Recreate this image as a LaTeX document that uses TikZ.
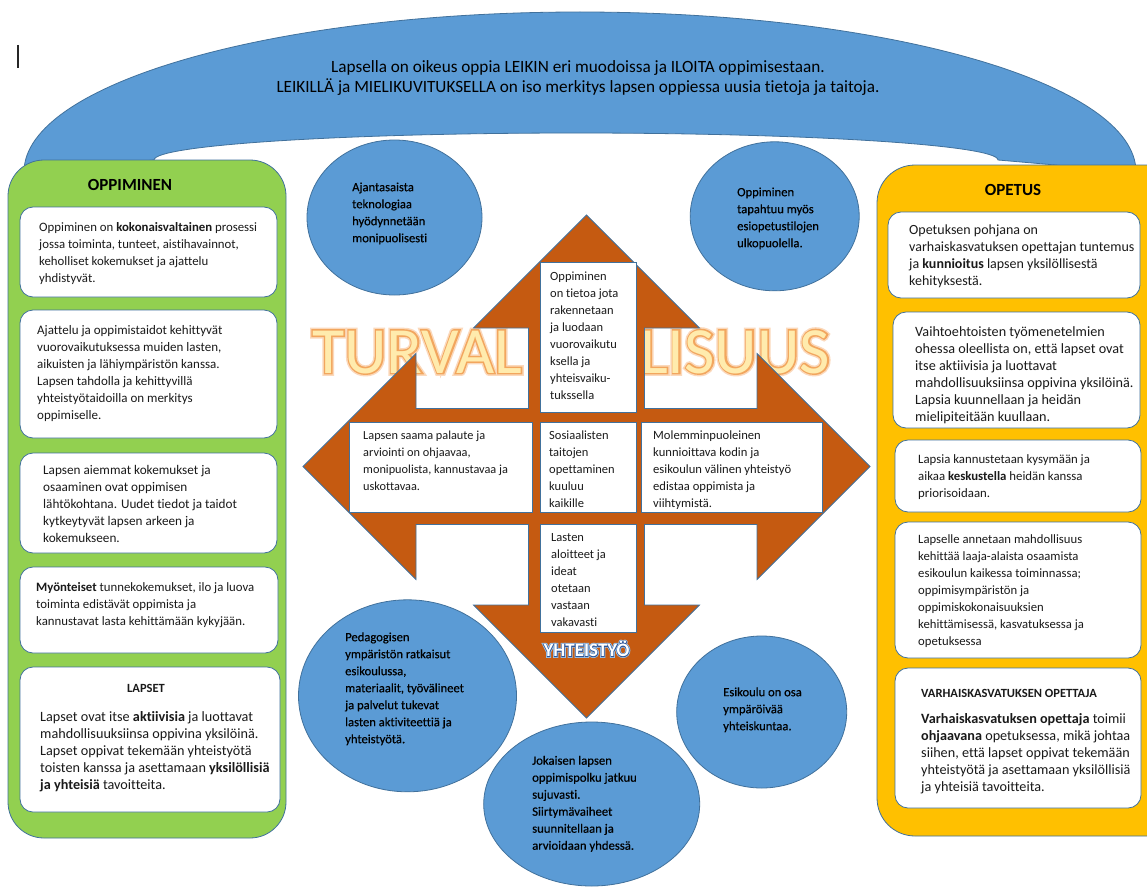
\documentclass[tikz,border=0pt]{standalone}
\usepackage{fontspec}
\defaultfontfeatures{Ligatures=NoCommon, RawFeature={-calt}}
\setmainfont{Carlito}
\newfontfamily\circfont{Carlito}[FakeBold=0.45]
\newfontfamily\glowfont{Carlito}[FakeBold=9]
\newfontfamily\linefont{Carlito}[FakeBold=4.5]
\newfontfamily\yglowfont{Carlito}[FakeBold=14]
\newfontfamily\ylinefont{Carlito}[FakeBold=6]
\usetikzlibrary{shapes.geometric}
\definecolor{archblue}{HTML}{5B9BD5}
\definecolor{edgeblue}{HTML}{41719C}
\definecolor{leafgreen}{HTML}{92D050}
\definecolor{gold}{HTML}{FFC000}
\definecolor{rust}{HTML}{C55A11}
\definecolor{ink}{HTML}{1A1A1A}
\definecolor{turvfill}{HTML}{FFEBAD}
\definecolor{turvline}{HTML}{F2A65E}
\definecolor{turvglow}{HTML}{FBD9BC}
\definecolor{yhtline}{HTML}{2F5597}
\definecolor{yhtglow}{HTML}{9DC3E6}
\newcommand\ls{\rule{0pt}{11pt}}
\begin{document}
\begin{tikzpicture}[x=1pt,y=-1pt,
  txt/.style={font=\fontsize{#1}{17}\selectfont, align=left, anchor=north west, inner sep=0pt, text=ink},
  txt/.default=13,
  ctxt/.style={font=\circfont\fontsize{#1}{17}\selectfont, align=left, anchor=north west, inner sep=0pt, text=black},
  hdr/.style={font=\fontsize{12.5}{15}\selectfont\bfseries, inner sep=0pt, text=ink},
  ttl/.style={font=\fontsize{17}{20}\selectfont\bfseries, inner sep=0pt, text=black},
  ban/.style={font=\fontsize{17.2}{20}\selectfont, inner sep=0pt, anchor=base, text=black},
  wbox/.style={draw=edgeblue, line width=0.8pt, fill=white, rounded corners=13pt},
  cbox/.style={draw=edgeblue, line width=0.8pt, fill=white},
  bubble/.style={ellipse, draw=edgeblue, line width=0.8pt, fill=archblue, inner sep=0pt},
  turv/.style={font=\fontsize{66}{66}\selectfont, anchor=base west, inner sep=0pt},
  yht/.style={font=\fontsize{19}{20}\selectfont\bfseries, anchor=base, inner sep=0pt},
]
\useasboundingbox (0,0) rectangle (1147,891);
\fill[white] (0,0) rectangle (1147,891);

% text cursor
\draw[line width=1.3pt, black!85] (18,45) -- (18,68);

% blue arch
\filldraw[fill=archblue, draw=edgeblue, line width=0.8pt]
  (24,172) arc[start angle=180, end angle=360, x radius=556, y radius=160]
  -- (998,160) arc[start angle=0, end angle=-180, x radius=422, y radius=27] -- cycle;
\node[ban] (ban1) at (578,72.5) {Lapsella on oikeus oppia LEIKIN eri muodoissa ja ILOITA oppimisestaan.};
\node[ban] (ban2) at (578,92.5) {LEIKILLÄ ja MIELIKUVITUKSELLA on iso merkitys lapsen oppiessa uusia tietoja ja taitoja.};

% side panels
\filldraw[fill=leafgreen, draw=edgeblue, line width=0.8pt, rounded corners=36pt] (8,160) rectangle (286,838);
\filldraw[fill=gold, draw=edgeblue, line width=0.8pt, rounded corners=38pt] (877,165) rectangle (1200,836);
\node[ttl] (tOpp) at (130,185) {OPPIMINEN};
\node[ttl] (tOpe) at (1013,190) {OPETUS};

% left boxes
\draw[wbox] (20,207) rectangle (277,297);
\node[txt=12.8] (L1) at (39,220.5) {\ls Oppiminen on \textbf{kokonaisvaltainen} prosessi\\jossa toiminta, tunteet, aistihavainnot,\\keholliset kokemukset ja ajattelu\\yhdistyvät.};
\draw[wbox] (20,310) rectangle (277,438);
\node[txt=13] (L2) at (37,323.5) {\ls Ajattelu ja oppimistaidot kehittyvät\\vuorovaikutuksessa muiden lasten,\\aikuisten ja lähiympäristön kanssa.\\Lapsen tahdolla ja kehittyvillä\\yhteistyötaidoilla on merkitys\\oppimiselle.};
\draw[wbox] (20,453) rectangle (277,553);
\node[txt=13.2] (L3) at (43,463.5) {\ls Lapsen aiemmat kokemukset ja\\osaaminen ovat oppimisen\\lähtökohtana. Uudet tiedot ja taidot\\kytkeytyvät lapsen arkeen ja\\kokemukseen.};
\draw[wbox] (20,567) rectangle (278,653);
\node[txt=12.8] (L4) at (36,580) {\ls\textbf{Myönteiset} tunnekokemukset, ilo ja luova\\toiminta edistävät oppimista ja\\kannustavat lasta kehittämään kykyjään.};
\draw[wbox] (20,667) rectangle (280,812);
\node[hdr] (L5h) at (146,688.5) {LAPSET};
\node[txt=14.2] (L5) at (40,710) {\ls Lapset ovat itse \textbf{aktiivisia} ja luottavat\\mahdollisuuksiinsa oppivina yksilöinä.\\Lapset oppivat tekemään yhteistyötä\\toisten kanssa ja asettamaan \textbf{yksilöllisiä}\\\textbf{ja yhteisiä} tavoitteita.};

% right boxes
\draw[wbox] (888,212) rectangle (1140,298);
\node[txt=14] (R1) at (909,223.5) {\ls Opetuksen pohjana on\\varhaiskasvatuksen opettajan tuntemus\\ja \textbf{kunnioitus} lapsen yksilöllisestä\\kehityksestä.};
\draw[wbox] (893,312) rectangle (1140,428);
\node[txt=14.2] (R2) at (915,325) {\ls Vaihtoehtoisten työmenetelmien\\ohessa oleellista on, että lapset ovat\\itse aktiivisia ja luottavat\\mahdollisuuksiinsa oppivina yksilöinä.\\Lapsia kuunnellaan ja heidän\\mielipiteitään kuullaan.};
\draw[wbox] (895,440) rectangle (1141,512);
\node[txt=12.8] (R3) at (918,451.8) {\ls Lapsia kannustetaan kysymään ja\\aikaa \textbf{keskustella} heidän kanssa\\priorisoidaan.};
\draw[wbox] (895,522) rectangle (1141,658);
\node[txt=12.7] (R4) at (918,531.8) {\ls Lapselle annetaan mahdollisuus\\kehittää laaja-alaista osaamista\\esikoulun kaikessa toiminnassa;\\oppimisympäristön ja\\oppimiskokonaisuuksien\\kehittämisessä, kasvatuksessa ja\\opetuksessa};
\draw[wbox] (895,668) rectangle (1141,808);
\node[hdr, anchor=west] (R5h) at (921,693.3) {VARHAISKASVATUKSEN OPETTAJA};
\node[txt=14.2] (R5) at (921,711.8) {\ls\textbf{Varhaiskasvatuksen opettaja} toimii\\\textbf{ohjaavana} opetuksessa, mikä johtaa\\siihen, että lapset oppivat tekemään\\yhteistyötä ja asettamaan yksilöllisiä\\ja yhteisiä tavoitteita.};

% TURVALLISUUS word art (under the arrow)
\node[turv, text=turvglow, font=\glowfont\fontsize{66}{66}\selectfont] (tAg) at (312,373) {TURVAL};
\node[turv, text=turvglow, font=\glowfont\fontsize{66}{66}\selectfont] (tBg) at (640,373) {LISUUS};
\node[turv, text=turvline, font=\linefont\fontsize{66}{66}\selectfont] (tAo) at (312,373) {TURVAL};
\node[turv, text=turvline, font=\linefont\fontsize{66}{66}\selectfont] (tBo) at (640,373) {LISUUS};
\node[turv, text=turvfill] (turvA) at (312,373) {TURVAL};
\node[turv, text=turvfill] (turvB) at (640,373) {LISUUS};

% quad arrow
\filldraw[fill=rust, draw=edgeblue, line width=0.8pt]
  (586.5,215) -- (699.5,328) -- (644.5,328) -- (644.5,408.5) -- (757,408.5) -- (757,353.5)
  -- (870,466.5) -- (757,579.5) -- (757,524.5) -- (644.5,524.5) -- (644.5,605) -- (699.5,605)
  -- (586.5,718) -- (473.5,605) -- (528.5,605) -- (528.5,524.5) -- (416,524.5) -- (416,579.5)
  -- (303,466.5) -- (416,353.5) -- (416,408.5) -- (528.5,408.5) -- (528.5,328) -- (473.5,328) -- cycle;

% central boxes
\draw[cbox] (540,262) rectangle (636,412);
\node[txt=12.5] (cTop) at (550,269.5) {\ls Oppiminen\\on tietoa jota\\rakennetaan\\ja luodaan\\vuorovaikutu\\ksella ja\\yhteisvaiku-\\tukssella};
\draw[cbox] (349,422) rectangle (532,512);
\node[txt=12.3] (cL) at (363,428.5) {\ls Lapsen saama palaute ja\\arviointi on ohjaavaa,\\monipuolista, kannustavaa ja\\uskottavaa.};
\draw[cbox] (540,422) rectangle (636,512);
\node[txt=12.5] (cM) at (549,428.5) {\ls Sosiaalisten\\taitojen\\opettaminen\\kuuluu\\kaikille};
\draw[cbox] (641,422) rectangle (822,512);
\node[txt=12.6] (cR) at (653,428.5) {\ls Molemminpuoleinen\\kunnioittava kodin ja\\esikoulun välinen yhteistyö\\edistaa oppimista ja\\viihtymistä.};
\draw[cbox] (540,524) rectangle (636,632);
\node[txt=12.5] (cB) at (551,530.5) {\ls Lasten\\aloitteet ja\\ideat\\otetaan\\vastaan\\vakavasti};

% YHTEISTYÖ word art
\node[yht, text=yhtglow, font=\yglowfont\fontsize{19}{20}\selectfont\bfseries] (yg) at (586.5,656.5) {YHTEISTYÖ};
\node[yht, text=yhtline, font=\ylinefont\fontsize{19}{20}\selectfont\bfseries] (yo) at (586.5,656.5) {YHTEISTYÖ};
\node[yht, text=white] (yht) at (586.5,656.5) {YHTEISTYÖ};

% circles
\node[bubble, minimum width=175pt, minimum height=155pt] (c1) at (394.5,217.5) {};
\node[ctxt=12.6] (c1t) at (352,180) {\ls Ajantasaista\\teknologiaa\\hyödynnetään\\monipuolisesti};
\node[bubble, minimum width=169pt, minimum height=149pt] (c2) at (774.7,216.3) {};
\node[ctxt=12.6] (c2t) at (737,185) {\ls Oppiminen\\tapahtuu myös\\esiopetustilojen\\ulkopuolella.};
\node[bubble, minimum width=218pt, minimum height=192pt] (c3) at (407.5,695.8) {};
\node[ctxt=12.6] (c3t) at (345,630) {\ls Pedagogisen\\ympäristön ratkaisut\\esikoulussa,\\materiaalit, työvälineet\\ja palvelut tukevat\\lasten aktiviteettiä ja\\yhteistyötä.};
\node[bubble, minimum width=216pt, minimum height=164pt] (c4) at (591.7,804) {};
\node[ctxt=12.7] (c4t) at (532,753.5) {\ls Jokaisen lapsen\\oppimispolku jatkuu\\sujuvasti.\\Siirtymävaiheet\\suunnitellaan ja\\arvioidaan yhdessä.};
\node[bubble, minimum width=170pt, minimum height=152pt] (c5) at (761.7,712) {};
\node[ctxt=12.6] (c5t) at (723,685) {\ls Esikoulu on osa\\ympäröivää\\yhteiskuntaa.};
\end{tikzpicture}
\end{document}
